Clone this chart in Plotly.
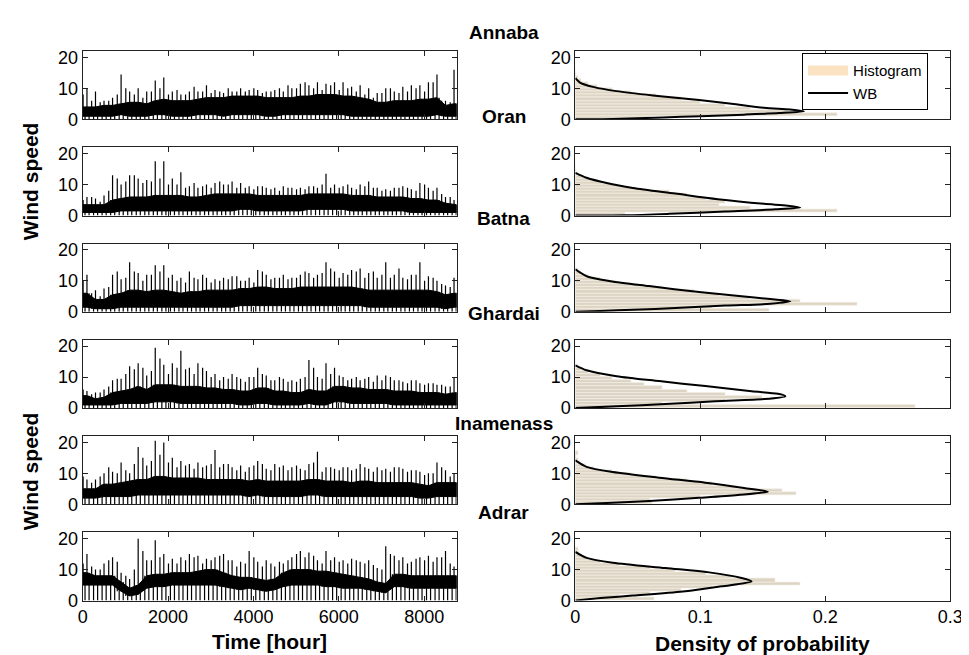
import plotly.graph_objects as go

W, H = 969, 655

stations = ["Annaba", "Oran", "Batna", "Ghardai", "Inamenass", "Adrar"]

# ---- time series, read per 200-hour bin ----
hour_centres = [100 + 200 * i for i in range(44)]
hour_edges = [200 * i for i in range(44)]

# highest spike in each bin (at bin centre)
ts_hi = [
    [10, 9, 6, 7, 14.5, 9, 10, 9, 12.5, 13.5, 9, 8, 9, 9, 11, 9.5, 8.5, 9, 10, 9.5, 9.5, 9,
     9.5, 9, 10, 11.5, 11, 12, 11.5, 12, 12, 10.5, 11, 10, 8.5, 10, 9, 10.5, 11, 11, 12, 14.5, 6, 16],
    [6, 5.5, 6.5, 13, 10, 13, 12, 11.5, 17.5, 17.5, 12, 14, 9.5, 9, 10, 10.5, 10, 11, 10.5, 9.5, 9.5, 9,
     9, 9.5, 9, 9, 9.5, 9, 13.5, 10, 9.5, 9, 10, 11, 9, 8.5, 9, 9.5, 8.5, 10.5, 9, 9, 6, 5],
    [12, 7, 7.5, 12, 10.5, 16, 12.5, 12, 15, 15, 12, 11, 13, 10.5, 11, 10.5, 11, 11.5, 10, 11, 13.5, 12,
     11, 12, 11, 12, 12.5, 12, 16, 13, 12.5, 13.5, 14, 12.5, 11, 16, 12, 11, 12, 16, 11.5, 10, 8.5, 11],
    [5.5, 5, 6, 9, 9.5, 13.5, 14.5, 10.5, 19.5, 14, 14.5, 18.5, 13, 14.5, 12, 11, 10, 11, 9.5, 10, 13, 10.5,
     9, 9.5, 9, 9.5, 15.5, 10, 14.5, 13, 10, 9.5, 9, 10, 10.5, 10.5, 9, 8.5, 9, 8, 8, 7.5, 7, 10],
    [8, 8, 10, 10.5, 13.5, 10, 18.5, 12.5, 20.5, 20, 15, 14, 13, 13.5, 12.5, 17.5, 13, 12, 12.5, 12, 14, 11.5,
     13, 12.5, 12, 11.5, 13, 17, 12, 11.5, 12, 11, 13, 11.5, 12, 11.5, 12, 11.5, 11, 10.5, 10, 13.5, 11, 10],
    [15, 10, 12, 14, 9, 7, 20, 13, 19.5, 15, 13.5, 14, 15, 14.5, 13.5, 14, 15, 13, 12.5, 16, 12.5, 13,
     11, 12, 14, 16, 15.5, 13, 16, 14, 13, 13.5, 12.5, 13, 10.5, 17.5, 14.5, 14, 12.5, 14, 14.5, 14, 16, 11],
]
# secondary spikes near each bin start
ts_hi2 = [
    [8, 6, 5.5, 6, 8, 10, 8, 7, 9, 10, 8, 9.5, 8, 10.5, 9, 8.5, 9, 10, 9, 9, 10, 8.5,
     9, 10, 11, 10, 12, 10, 9.5, 11, 9.5, 10, 9, 8, 7, 8.5, 10, 8.5, 9, 10, 9, 12, 6, 5.5],
    [5, 6, 4.5, 8, 12, 11, 13, 10.5, 11, 12, 10, 10, 9, 10.5, 9.5, 9, 11, 10, 9, 9, 8.5, 9.5,
     8.5, 8, 9, 8.5, 8.5, 9.5, 10, 9, 9, 10, 8.5, 9.5, 9, 8, 8, 9, 9, 8, 10, 8, 7, 6],
    [10, 6, 5, 8, 13, 11, 13, 10, 12, 13, 11, 10, 9.5, 11, 12, 9.5, 10, 10.5, 11.5, 10, 9.5, 13,
     10.5, 11, 10.5, 11, 13, 11, 12.5, 14, 11, 12, 13, 11, 13, 12, 11, 14, 10.5, 12, 10, 11, 9, 8],
    [6, 4.5, 5, 7, 9.5, 11, 12.5, 13, 12, 16, 11, 13, 12.5, 11, 13, 10, 9, 9.5, 10, 8.5, 10, 11,
     9, 10, 8.5, 8.5, 10, 13, 9.5, 11, 10.5, 9, 10, 9.5, 8.5, 9, 10, 9, 8, 9, 7.5, 8, 7.5, 7],
    [9, 7, 9, 12, 10, 11, 13, 15, 14, 16, 13.5, 12, 12.5, 11.5, 12, 13, 12, 13, 11, 10.5, 12.5, 13,
     11, 12, 11, 12.5, 11, 13.5, 10.5, 12, 11, 12, 11.5, 12, 10.5, 11, 10.5, 12, 10.5, 11, 9.5, 10, 12, 9],
    [12, 11, 10, 13, 12.5, 8, 10, 16, 13, 14, 12, 12, 13, 14, 12, 13, 14.5, 13, 11, 12, 14, 11,
     12, 12.5, 13, 15, 14, 14.5, 12, 13, 12.5, 12, 13, 12, 11.5, 10, 15, 13, 12, 13.5, 13, 12.5, 14, 12],
]
# top of the dense band
ts_top = [
    [4, 4, 4.5, 4.5, 5, 5.5, 5.5, 5, 6, 6.5, 6, 6, 6, 6.5, 7, 7, 7, 7.5, 7.5, 7.5, 7.5, 7,
     7, 7, 7, 7.5, 7.5, 8, 8, 8, 7.5, 7.5, 7, 6.5, 5.5, 5.5, 6, 6, 6, 6.5, 6.5, 7, 4.5, 5],
    [3.5, 3.5, 3.5, 5, 5.5, 6, 6, 6, 6.5, 6.5, 6.5, 6.5, 6, 6, 6.5, 7, 7, 7, 7, 7, 6.5, 6.5,
     6.5, 6.5, 6.5, 6.5, 7, 7, 7, 7, 7, 6.5, 6.5, 6.5, 6, 6, 6, 6, 5.5, 5.5, 5, 5, 4, 3.5],
    [6, 4, 4, 5.5, 6, 7, 7, 6.5, 7, 7, 6.5, 6, 6.5, 6.5, 7, 7, 7, 7, 7.5, 7.5, 8, 8,
     7.5, 7.5, 7.5, 8, 8, 8, 8, 8, 8, 8, 7.5, 7, 7, 7, 7, 7, 7, 7, 7, 6.5, 5.5, 6],
    [4, 3, 3.5, 5, 5.5, 6, 7, 6, 7.5, 7.5, 7.5, 7, 7, 7, 6.5, 6.5, 6, 6, 5.5, 5.5, 6.5, 6.5,
     5.5, 5.5, 5, 5, 6, 5.5, 5.5, 7, 7, 6.5, 6.5, 6, 6, 6, 5.5, 5.5, 5.5, 5, 5, 5, 4.5, 5],
    [5, 5, 6.5, 6.5, 7, 7.5, 8, 8, 9, 9, 8.5, 8.5, 8.5, 8.5, 8, 8, 8, 8, 8, 7.5, 8, 7.5,
     7.5, 7.5, 7.5, 7.5, 8, 8, 7.5, 7.5, 7.5, 7, 7.5, 7.5, 7, 7, 7, 7, 7, 6.5, 6, 7, 7, 7],
    [9, 8, 8, 8, 6, 4, 5, 8, 8.5, 8.5, 9, 9, 9, 9.5, 10, 10, 9, 8, 7.5, 7.5, 7, 6.5,
     7, 9, 10, 10, 10, 9.5, 9.5, 9, 8.5, 8, 7.5, 7, 6, 5.5, 8.5, 8.5, 8, 8, 8, 8, 8, 8],
]
# bottom of the dense band
ts_bot = [
    [1, 1, 1, 1, 1.5, 1, 1, 1, 1.5, 1.5, 1, 1, 1, 1.5, 1.5, 1.5, 1, 1.5, 1.5, 1.5, 1.5, 1,
     1, 1.5, 1.5, 1.5, 1.5, 1.5, 1.5, 1.5, 1.5, 1, 1, 1, 1, 1, 1, 1, 1, 1, 1, 1.5, 1, 1],
    [1, 1, 1, 1, 1.5, 1.5, 1.5, 1.5, 1.5, 1.5, 1.5, 1.5, 1.5, 1.5, 1.5, 1.5, 1.5, 1.5, 2, 2, 1.5, 1.5,
     1.5, 1.5, 1.5, 1.5, 2, 2, 2, 2, 2, 1.5, 1.5, 1.5, 1.5, 1.5, 1.5, 1.5, 1, 1, 1, 1, 1, 1],
    [1.5, 1, 1, 1, 1.5, 1.5, 1.5, 1.5, 1.5, 1.5, 1.5, 1.5, 1.5, 1.5, 1.5, 1.5, 1.5, 1.5, 2, 2, 2, 2,
     2, 2, 2, 2, 2, 2, 2, 2, 2, 2, 2, 1.5, 1.5, 1.5, 1.5, 1.5, 1.5, 1.5, 1.5, 1.5, 1, 1.5],
    [1, 1, 1, 1, 1.5, 1.5, 1.5, 1.5, 2, 2, 2, 1.5, 1.5, 1.5, 1.5, 1.5, 1.5, 1.5, 1, 1, 1.5, 1.5,
     1, 1, 1, 1, 1.5, 1, 1, 2, 2, 1.5, 1.5, 1.5, 1.5, 1.5, 1, 1, 1, 1, 1, 1, 1, 1],
    [2, 2, 2.5, 2.5, 2.5, 2.5, 3, 3, 3, 3, 3, 3, 3, 3, 3, 3, 3, 3, 3, 2.5, 3, 2.5,
     2.5, 2.5, 2.5, 2.5, 3, 3, 2.5, 2.5, 2.5, 2.5, 2.5, 2.5, 2.5, 2.5, 2.5, 2.5, 2.5, 2, 2, 2.5, 2.5, 2.5],
    [5, 5, 5, 5, 3, 1.5, 2, 4, 4.5, 4.5, 5, 5, 5, 5, 5, 5, 4.5, 4, 3.5, 4, 3.5, 3,
     3.5, 4.5, 5, 5, 5, 5, 4.5, 4.5, 4, 4, 4, 3.5, 3, 2.5, 4.5, 4.5, 4, 4, 4, 4, 4, 4],
]

# ---- histograms (bins of 1 m/s, centres 0.5 ... 16.5) ----
speed_bins = [0.5 + k for k in range(17)]
hist_vals = [
    [0.06, 0.21, 0.17, 0.14, 0.12, 0.10, 0.085, 0.065, 0.045, 0.03, 0.018, 0.01, 0.005, 0.002, 0.001, 0, 0],
    [0.04, 0.21, 0.14, 0.115, 0.12, 0.105, 0.09, 0.075, 0.05, 0.035, 0.022, 0.012, 0.006, 0.002, 0.001, 0, 0],
    [0.155, 0.11, 0.226, 0.18, 0.14, 0.115, 0.095, 0.07, 0.05, 0.033, 0.02, 0.01, 0.005, 0.002, 0, 0, 0],
    [0.272, 0.07, 0.12, 0.15, 0.12, 0.09, 0.07, 0.055, 0.045, 0.03, 0.02, 0.01, 0.005, 0.002, 0, 0, 0],
    [0.062, 0.06, 0.10, 0.177, 0.166, 0.13, 0.11, 0.09, 0.065, 0.045, 0.03, 0.015, 0.008, 0.004, 0.002, 0.001, 0.002],
    [0.063, 0.035, 0.06, 0.085, 0.11, 0.18, 0.16, 0.125, 0.105, 0.08, 0.06, 0.035, 0.02, 0.01, 0.005, 0.003, 0.002],
]

# ---- Weibull curves (speed, density) ----
wb_speed = [
    [0, 0.1, 0.6, 1.0, 1.5, 2.0, 2.6, 3.2, 3.7, 5.0, 6.2, 7.7, 9.1, 10.4, 11.8, 13.3],
    [0, 0.1, 0.55, 1.3, 2.0, 2.6, 3.2, 3.8, 5.3, 7.1, 8.9, 10.5, 12.2, 13.8],
    [0, 0.3, 0.65, 1.2, 2.0, 2.6, 3.4, 4.1, 5.0, 6.4, 8.3, 9.9, 11.5, 13.7],
    [0, 0.55, 1.3, 2.2, 2.9, 3.8, 4.6, 5.4, 7.1, 8.7, 10.3, 12.2, 13.8],
    [0, 0.43, 1.1, 2.1, 3.0, 4.1, 5.3, 7.0, 8.6, 10.4, 12.1, 14.2],
    [0, 0.8, 1.6, 2.9, 4.6, 6.2, 7.3, 9.1, 10.5, 12.2, 13.8, 15.7],
]
wb_dens = [
    [0, 0.03, 0.07, 0.10, 0.135, 0.163, 0.183, 0.172, 0.151, 0.125, 0.099, 0.062, 0.033, 0.015, 0.004, 0.0],
    [0, 0.04, 0.075, 0.12, 0.16, 0.18, 0.17, 0.151, 0.114, 0.08, 0.046, 0.025, 0.009, 0.0],
    [0, 0.02, 0.046, 0.08, 0.12, 0.156, 0.172, 0.156, 0.133, 0.099, 0.059, 0.028, 0.009, 0.0],
    [0, 0.033, 0.072, 0.112, 0.151, 0.168, 0.162, 0.141, 0.104, 0.067, 0.033, 0.009, 0.0],
    [0, 0.025, 0.059, 0.099, 0.13, 0.154, 0.135, 0.104, 0.067, 0.03, 0.009, 0.0],
    [0, 0.02, 0.046, 0.086, 0.117, 0.141, 0.133, 0.107, 0.072, 0.03, 0.009, 0.0],
]

time_ticks = [0, 2000, 4000, 6000, 8000]
dens_ticks = [0, 0.1, 0.2, 0.3]
speed_ticks = [0, 10, 20]

title_y_px = [22, 108, 212, 309, 421, 512]

FONT = "Liberation Sans, Arial, Helvetica, sans-serif"
AX = "#222222"

fig = go.Figure()
layout = dict(
    width=W, height=H, autosize=False,
    margin=dict(l=0, r=0, t=0, b=0),
    paper_bgcolor="white", plot_bgcolor="white",
    showlegend=True,
    font=dict(family=FONT, size=18, color="black"),
)

left_dom = [71 / W, 452 / W]
right_dom = [573 / W, 955 / W]
row_top0, row_step, row_h = 41.0, 98.2, 69.5

for r in range(6):
    top = row_top0 + r * row_step
    ydom = [1 - (top + row_h) / H, 1 - top / H]
    kl, kr = 2 * r + 1, 2 * r + 2
    last = (r == 5)
    common = dict(showline=True, linecolor=AX, linewidth=1, mirror="ticks",
                  ticks="inside", ticklen=5, tickcolor=AX, showgrid=False,
                  zeroline=False, tickfont=dict(size=18, family=FONT))
    layout["xaxis%d" % kl] = dict(common, domain=left_dom, anchor="y%d" % kl,
                                  range=[0, 8760], tickvals=time_ticks,
                                  showticklabels=last)
    layout["yaxis%d" % kl] = dict(common, domain=ydom, anchor="x%d" % kl,
                                  range=[0, 22], tickvals=speed_ticks)
    layout["xaxis%d" % kr] = dict(common, domain=right_dom, anchor="y%d" % kr,
                                  range=[0, 0.3], tickvals=dens_ticks,
                                  showticklabels=last)
    layout["yaxis%d" % kr] = dict(common, domain=ydom, anchor="x%d" % kr,
                                  range=[0, 22], tickvals=speed_ticks)

    xa, ya = "x%d" % kl, "y%d" % kl
    # dense band of the series
    bx = [0] + hour_centres + [8760]
    tops = [ts_top[r][0]] + ts_top[r] + [ts_top[r][-1]]
    bots = [ts_bot[r][0]] + ts_bot[r] + [ts_bot[r][-1]]
    fig.add_trace(go.Scatter(x=bx + bx[::-1], y=tops + bots[::-1], fill="toself",
                             fillcolor="black", line=dict(color="black", width=1),
                             mode="lines", showlegend=False, hoverinfo="skip",
                             xaxis=xa, yaxis=ya))
    # spikes (main at bin centre, secondary at bin start) and drops to zero
    sx, sy = [], []
    for i, c in enumerate(hour_centres):
        sx += [c, c, None]
        sy += [ts_bot[r][i], ts_hi[r][i], None]
    for i, e in enumerate(hour_edges):
        sx += [e + 10, e + 10, None]
        sy += [ts_bot[r][i], ts_hi2[r][i], None]
        sx += [e + 55, e + 55, None]
        sy += [0, ts_top[r][i], None]
        sx += [e + 150, e + 150, None]
        sy += [0, ts_top[r][i], None]
    fig.add_trace(go.Scatter(x=sx, y=sy, mode="lines", line=dict(color="black", width=1.2),
                             showlegend=False, hoverinfo="skip", xaxis=xa, yaxis=ya))

    xa, ya = "x%d" % kr, "y%d" % kr
    fig.add_trace(go.Bar(x=hist_vals[r], y=speed_bins, orientation="h", width=1,
                         marker=dict(color="#DDD4C3", line=dict(color="#F2EEE7", width=0.7)),
                         showlegend=False, xaxis=xa, yaxis=ya))
    if r == 0:
        # legend entry for the histogram: a broad peach swatch
        fig.add_trace(go.Scatter(x=[None], y=[None], mode="lines", name="Histogram",
                                 line=dict(color="#FBE2C3", width=14), xaxis=xa, yaxis=ya,
                                 legendrank=1))
    fig.add_trace(go.Scatter(x=wb_dens[r], y=wb_speed[r], mode="lines",
                             line=dict(color="black", width=2, shape="spline", smoothing=0.8),
                             name="WB", showlegend=(r == 0), legendrank=2,
                             xaxis=xa, yaxis=ya))

ann = []
for name, yp in zip(stations, title_y_px):
    ann.append(dict(text="<b>%s</b>" % name, x=500 / W, y=1 - yp / H, xref="paper", yref="paper",
                    xanchor="center", yanchor="middle", showarrow=False,
                    font=dict(size=19, family=FONT)))
for yc in [174, 470]:
    ann.append(dict(text="<b>Wind speed</b>", x=18 / W, y=1 - yc / H, xref="paper", yref="paper",
                    xanchor="center", yanchor="middle", textangle=-90, showarrow=False,
                    font=dict(size=21, family=FONT)))
ann.append(dict(text="<b>Time [hour]</b>", x=261 / W, y=1 - 643 / H, xref="paper", yref="paper",
                xanchor="center", yanchor="middle", showarrow=False, font=dict(size=21, family=FONT)))
ann.append(dict(text="<b>Density of probability</b>", x=764 / W, y=1 - 645 / H, xref="paper",
                yref="paper", xanchor="center", yanchor="middle", showarrow=False,
                font=dict(size=21, family=FONT)))
layout["annotations"] = ann
layout["legend"] = dict(x=804 / W, y=1 - 43 / H, xanchor="left", yanchor="top",
                        bgcolor="white", bordercolor="black", borderwidth=1,
                        font=dict(size=15, family=FONT), tracegroupgap=0,
                        traceorder="normal", itemwidth=40)
layout["bargap"] = 0
fig.update_layout(**layout)
fig.write_html("out.html")
